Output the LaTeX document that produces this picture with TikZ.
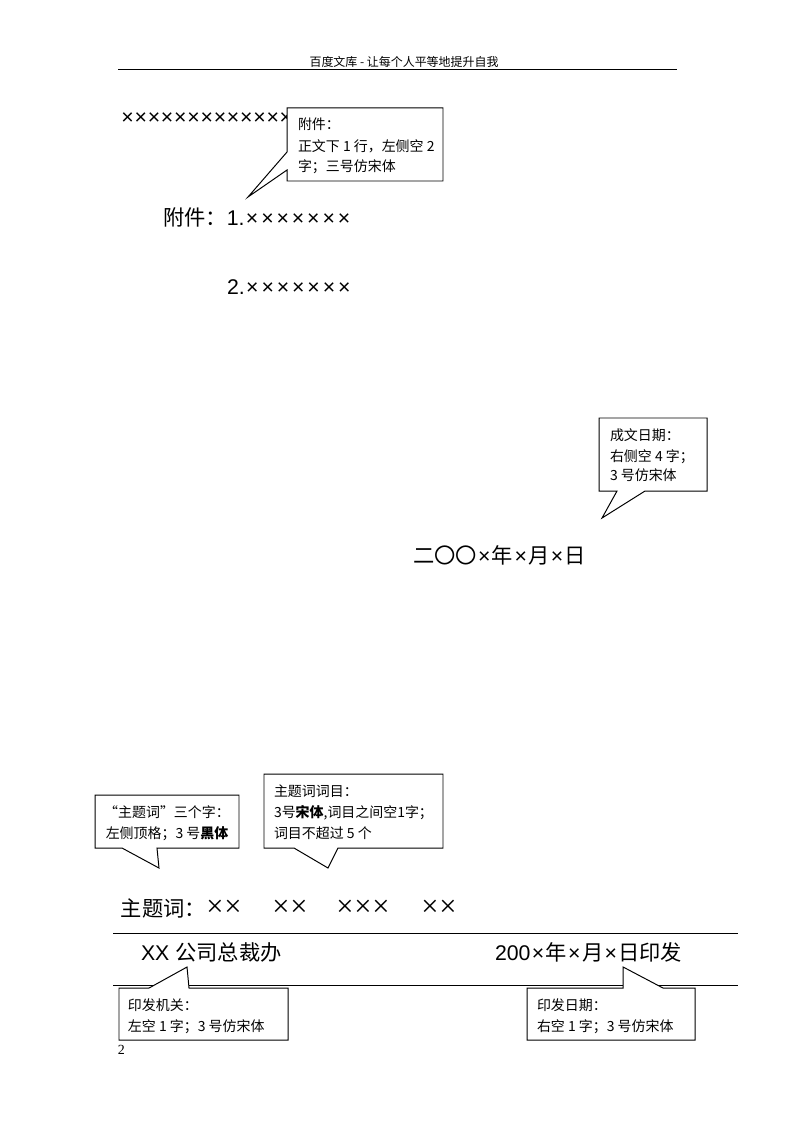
\documentclass[tikz,border=0pt]{standalone}
\usepackage{fontspec}
\setmainfont{Liberation Sans}
\newfontfamily\cjk{Noto Sans CJK SC}
\newfontfamily\serifnum{Liberation Serif}
\definecolor{c000000}{RGB}{0,0,0}
\definecolor{cffffff}{RGB}{255,255,255}
\def \globalscale {1.000000}
\newcommand\sanhao{\fontsize{16pt}{19pt}\selectfont}
\newcommand\wuhao{\fontsize{10.5pt}{15pt}\selectfont\cjk}
\newcommand\xiaowu{\fontsize{9pt}{11pt}\selectfont\cjk}
\newcommand\xrun[2]{\foreach \i in {1,...,#1}{\makebox[#2]{×}}}
\newcommand\wx{\makebox[4.0mm]{×}}
\newcommand\thinx{\makebox[4.76mm]{\serifnum\fontsize{23pt}{23pt}\selectfont ×}}

\begin{document}
\begin{tikzpicture}[y=1mm, x=1mm, yscale=\globalscale,xscale=\globalscale, every node/.append style={scale=\globalscale}, inner sep=0pt, outer sep=0pt,
  callout/.style={draw=c000000,fill=cffffff,line cap=butt,line join=miter,line width=0.26mm,miter limit=10.0},
  rule/.style={draw=c000000,line cap=butt,line join=round,line width=0.26mm},
  note/.style={text=c000000,anchor=base west,font=\wuhao}]
  \path[fill=cffffff] (0.0, 297.0) rectangle (210.0, 0.0);



  \path[rule] (31.21, 278.49) -- (179.05, 278.49);



  \node[text=c000000,anchor=base] (textheader) at (106.85, 279.5){\xiaowu 百度文库 - 让每个人平等地提升自我};



  \node[text=c000000,anchor=base west] (textbody) at (32.0, 264.2){\sanhao\xrun{13}{3.49mm}};



  \path[callout] (75.91, 268.44) -- (117.16, 268.44) -- (117.16, 249.13) -- (75.91, 
  249.13) -- (75.91, 252.04) -- (65.59, 244.9) -- (75.91, 256.8) -- cycle;



  \node[note] (textfujiana) at (78.82, 262.62){附件：};



  \node[note] (textfujianb) at (78.82, 257.06){正文下 1 行，左侧空 2};



  \node[note] (textfujianc) at (78.82, 251.77){字；三号仿宋体};



  \node[text=c000000,anchor=base west] (textfujian) at (43.11, 237.23){\sanhao{\cjk 附件：}1.\xrun{7}{4.05mm}};



  \node[text=c000000,anchor=base west] (textfujiantwo) at (60.04, 219.24){\sanhao 2.\xrun{7}{4.05mm}};



  \path[callout] (158.42, 186.45) -- (186.99, 186.45) -- (186.99, 167.14) -- (170.59, 
  167.14) -- (159.22, 160.0) -- (163.18, 167.14) -- (158.42, 167.14) -- cycle;



  \node[note] (textriqia) at (161.33, 180.63){成文日期：};



  \node[note] (textriqib) at (161.33, 175.07){右侧空 4 字；};



  \node[note] (textriqic) at (161.33, 169.79){3 号仿宋体};



  \node[text=c000000,anchor=base west] (textriqi) at (109.23, 148.1){\sanhao{\cjk 二〇〇}\wx{\cjk 年}\wx{\cjk 月}\wx{\cjk 日}};



  \path[callout] (25.13, 86.74) -- (63.21, 86.74) -- (63.21, 72.72) -- (41.52, 
  72.72) -- (42.05, 67.43) -- (32.27, 72.72) -- (25.13, 72.72) -- cycle;



  \node[note,anchor=base] (textzhutia) at (44.17, 80.92){“主题词”三个字：};



  \node[note,anchor=base] (textzhutib) at (44.17, 75.37){左侧顶格；3 号{\bfseries 黑体}};



  \path[callout] (69.82, 92.29) -- (117.16, 92.29) -- (117.16, 72.72) -- (89.39, 
  72.72) -- (86.75, 67.43) -- (77.76, 72.72) -- (69.82, 72.72) -- cycle;



  \node[note] (textciyia) at (72.47, 86.47){主题词词目：};



  \node[note] (textciyib) at (72.47, 80.92){3号{\bfseries 宋体},词目之间空1字；};



  \node[note] (textciyic) at (72.47, 75.37){词目不超过 5 个};



  \node[text=c000000,anchor=base west] (textzhuti) at (32.0, 54.74){\sanhao{\cjk 主题词：}\thinx\thinx\hspace{7.9mm}\thinx\thinx\hspace{7.4mm}\thinx\thinx\thinx\hspace{8.2mm}\thinx\thinx};



  \path[rule] (29.89, 50.24) -- (195.19, 50.24);



  \node[text=c000000,anchor=base west] (textjiguan) at (37.29, 43.1){\sanhao XX {\cjk 公司总裁办}};



  \node[text=c000000,anchor=base west] (textyinfa) at (130.92, 43.1){\sanhao 200\wx{\cjk 年}\wx{\cjk 月}\wx{\cjk 日印发}};



  \path[rule] (29.89, 36.49) -- (195.19, 36.49);



  \path[callout] (31.47, 35.69) -- (39.41, 35.69) -- (49.46, 41.25) -- (49.99, 
  35.69) -- (76.17, 35.69) -- (76.17, 21.94) -- (31.47, 21.94) -- cycle;



  \node[note] (textjiguana) at (33.85, 29.88){印发机关：};



  \node[note] (textjiguanb) at (33.85, 24.32){左空 1 字；3 号仿宋体};



  \path[callout] (139.38, 35.69) -- (164.8, 35.69) -- (164.8, 41.25) -- (175.35, 
  35.69) -- (183.81, 35.69) -- (183.81, 21.94) -- (139.38, 21.94) -- cycle;



  \node[note] (textyinfaa) at (142.03, 29.88){印发日期：};



  \node[note] (textyinfab) at (142.03, 24.32){右空 1 字；3 号仿宋体};



  \node[text=c000000,anchor=base west] (textpage) at (31.2, 18.24){\serifnum\fontsize{10.5pt}{12pt}\selectfont 2};




\end{tikzpicture}
\end{document}
